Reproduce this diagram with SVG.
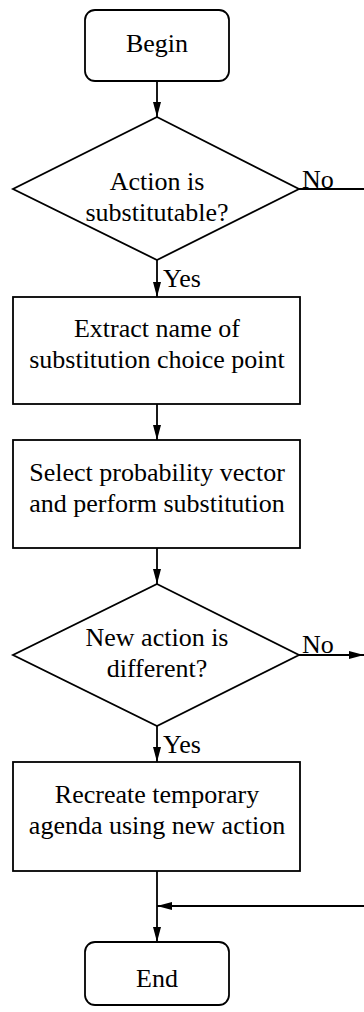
<svg xmlns="http://www.w3.org/2000/svg" width="364" height="1012" viewBox="0 0 364 1012">
<style>
.n{fill:#fff;stroke:#000;stroke-width:1.8}
.t{font-family:"Liberation Serif","Times New Roman",serif;font-size:26px;fill:#000;text-anchor:middle}
.l{font-family:"Liberation Serif","Times New Roman",serif;font-size:26px;fill:#000}
.c{fill:none;stroke:#000;stroke-width:1.8}
</style>
<defs>
<marker id="a" markerWidth="16" markerHeight="10" refX="15" refY="5" orient="auto" markerUnits="userSpaceOnUse">
<path d="M0,1 L15,5 L0,9 Z" fill="#000"/>
</marker>
</defs>
<g id="connectors">
<line class="c" x1="157" y1="81" x2="157" y2="117" marker-end="url(#a)"/>
<line class="c" x1="157" y1="260" x2="157" y2="297" marker-end="url(#a)"/>
<line class="c" x1="299" y1="189" x2="364" y2="189"/>
<line class="c" x1="157" y1="404" x2="157" y2="440" marker-end="url(#a)"/>
<line class="c" x1="157" y1="548" x2="157" y2="584" marker-end="url(#a)"/>
<line class="c" x1="299" y1="655" x2="364" y2="655" marker-end="url(#a)"/>
<line class="c" x1="157" y1="726" x2="157" y2="762" marker-end="url(#a)"/>
<line class="c" x1="157" y1="871" x2="157" y2="942" marker-end="url(#a)"/>
<line class="c" x1="364" y1="906" x2="157" y2="906" marker-end="url(#a)"/>
<text class="l" x="302" y="188">No</text>
<text class="l" x="163" y="287">Yes</text>
<text class="l" x="302" y="653">No</text>
<text class="l" x="163" y="753">Yes</text>
</g>
<g id="begin">
<rect class="n" x="85" y="10" width="144" height="71" rx="10"/>
<text class="t" x="157" y="52">Begin</text>
</g>
<g id="decision1">
<polygon class="n" points="157,117 299,189 157,260 13,189"/>
<text class="t" x="157" y="190">Action is</text>
<text class="t" x="157" y="221">substitutable?</text>
</g>
<g id="extract">
<rect class="n" x="13" y="297" width="287" height="107"/>
<text class="t" x="157" y="337">Extract name of</text>
<text class="t" x="157" y="368">substitution choice point</text>
</g>
<g id="select">
<rect class="n" x="13" y="440" width="287" height="108"/>
<text class="t" x="157" y="481">Select probability vector</text>
<text class="t" x="157" y="512">and perform substitution</text>
</g>
<g id="decision2">
<polygon class="n" points="157,584 299,655 157,726 13,655"/>
<text class="t" x="157" y="646">New action is</text>
<text class="t" x="157" y="677">different?</text>
</g>
<g id="recreate">
<rect class="n" x="13" y="762" width="287" height="109"/>
<text class="t" x="157" y="803">Recreate temporary</text>
<text class="t" x="157" y="834">agenda using new action</text>
</g>
<g id="end">
<rect class="n" x="85" y="942" width="144" height="63" rx="10"/>
<text class="t" x="157" y="987">End</text>
</g>
</svg>
